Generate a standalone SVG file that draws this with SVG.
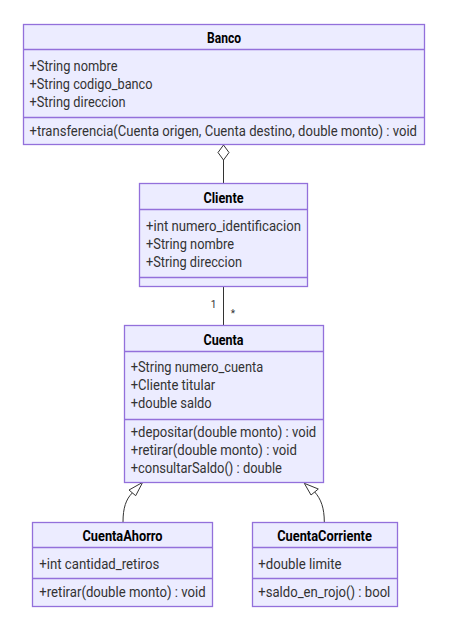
<svg xmlns="http://www.w3.org/2000/svg" width="472" height="627" viewBox="0 0 472 627">
<style>
.box{fill:#ECECFF;stroke:#9370DB;stroke-width:1.3}
.div{stroke:#9370DB;stroke-width:1.3}
.t{font-family:Roboto,"Noto Sans","DejaVu Sans",sans-serif;font-size:14px;fill:#333;dominant-baseline:central}
.h{font-family:Roboto,"Noto Sans","DejaVu Sans",sans-serif;font-size:14px;font-weight:bold;fill:#000;text-anchor:middle;dominant-baseline:central}
.c{fill:none;stroke:#333;stroke-width:1}
.m{font-family:Roboto,"Noto Sans","DejaVu Sans",sans-serif;font-size:10px;fill:#333;dominant-baseline:central}
</style>
<rect width="472" height="627" fill="#fff"/>
<g id="connectors">
<polygon points="223.5,145 229,152.5 223.5,160 218,152.5" fill="#fff" stroke="#333"/>
<line x1="223.5" y1="160" x2="223.5" y2="183.5" class="c"/>
<line x1="223.5" y1="286" x2="223.5" y2="325.5" class="c"/>
<text x="213.5" y="304" class="m" text-anchor="middle">1</text>
<text x="233" y="313" class="m" text-anchor="middle">*</text>
<path d="M123,522 C123,508 126,499 132.4,492.9" class="c"/>
<polygon points="142.7,482.3 129,490 135.7,495.7" fill="#fff" stroke="#333"/>
<path d="M324.3,522 C324.3,508 321,499 314.7,492" class="c"/>
<polygon points="304.3,483.3 311,495 318.3,489" fill="#fff" stroke="#333"/>
</g>
<g id="Banco">
<rect x="23.5" y="24.5" width="401" height="120" class="box"/>
<line x1="23.5" y1="49.5" x2="424.5" y2="49.5" class="div"/>
<line x1="23.5" y1="117.5" x2="424.5" y2="117.5" class="div"/>
<text x="224" y="38" class="h" textLength="34" lengthAdjust="spacingAndGlyphs">Banco</text>
<text x="29.5" y="66" class="t" textLength="88" lengthAdjust="spacingAndGlyphs">+String nombre</text>
<text x="29.5" y="84" class="t" textLength="123" lengthAdjust="spacingAndGlyphs">+String codigo_banco</text>
<text x="29.5" y="102" class="t" textLength="96" lengthAdjust="spacingAndGlyphs">+String direccion</text>
<text x="29.5" y="131" class="t" textLength="387.5" lengthAdjust="spacingAndGlyphs">+transferencia(Cuenta origen, Cuenta destino, double monto) : void</text>
</g>
<g id="Cliente">
<rect x="139.5" y="183.5" width="168" height="103" class="box"/>
<line x1="139.5" y1="209.5" x2="307.5" y2="209.5" class="div"/>
<line x1="139.5" y1="277.5" x2="307.5" y2="277.5" class="div"/>
<text x="223.5" y="198" class="h" textLength="40" lengthAdjust="spacingAndGlyphs">Cliente</text>
<text x="146" y="226" class="t" textLength="155" lengthAdjust="spacingAndGlyphs">+int numero_identificacion</text>
<text x="146" y="244" class="t" textLength="88" lengthAdjust="spacingAndGlyphs">+String nombre</text>
<text x="146" y="262" class="t" textLength="96" lengthAdjust="spacingAndGlyphs">+String direccion</text>
</g>
<g id="Cuenta">
<rect x="124.5" y="325.5" width="199" height="157" class="box"/>
<line x1="124.5" y1="351.5" x2="323.5" y2="351.5" class="div"/>
<line x1="124.5" y1="419.5" x2="323.5" y2="419.5" class="div"/>
<text x="223.5" y="340" class="h" textLength="40" lengthAdjust="spacingAndGlyphs">Cuenta</text>
<text x="130.7" y="367" class="t" textLength="132.5" lengthAdjust="spacingAndGlyphs">+String numero_cuenta</text>
<text x="130.7" y="385" class="t" textLength="84.5" lengthAdjust="spacingAndGlyphs">+Cliente titular</text>
<text x="130.7" y="403" class="t" textLength="81" lengthAdjust="spacingAndGlyphs">+double saldo</text>
<text x="130.7" y="432" class="t" textLength="185.5" lengthAdjust="spacingAndGlyphs">+depositar(double monto) : void</text>
<text x="130.7" y="450" class="t" textLength="166.3" lengthAdjust="spacingAndGlyphs">+retirar(double monto) : void</text>
<text x="130.7" y="468" class="t" textLength="151.3" lengthAdjust="spacingAndGlyphs">+consultarSaldo() : double</text>
</g>
<g id="CuentaAhorro">
<rect x="32.5" y="522.5" width="180" height="84" class="box"/>
<line x1="32.5" y1="547.5" x2="212.5" y2="547.5" class="div"/>
<line x1="32.5" y1="578.5" x2="212.5" y2="578.5" class="div"/>
<text x="122.5" y="536" class="h" textLength="80" lengthAdjust="spacingAndGlyphs">CuentaAhorro</text>
<text x="39.3" y="564" class="t" textLength="120" lengthAdjust="spacingAndGlyphs">+int cantidad_retiros</text>
<text x="39.3" y="592" class="t" textLength="166.3" lengthAdjust="spacingAndGlyphs">+retirar(double monto) : void</text>
</g>
<g id="CuentaCorriente">
<rect x="252.5" y="522.5" width="145" height="84" class="box"/>
<line x1="252.5" y1="547.5" x2="397.5" y2="547.5" class="div"/>
<line x1="252.5" y1="578.5" x2="397.5" y2="578.5" class="div"/>
<text x="324.5" y="536" class="h" textLength="94.7" lengthAdjust="spacingAndGlyphs">CuentaCorriente</text>
<text x="258.3" y="564" class="t" textLength="83.3" lengthAdjust="spacingAndGlyphs">+double limite</text>
<text x="258.3" y="592" class="t" textLength="132" lengthAdjust="spacingAndGlyphs">+saldo_en_rojo() : bool</text>
</g>
</svg>
